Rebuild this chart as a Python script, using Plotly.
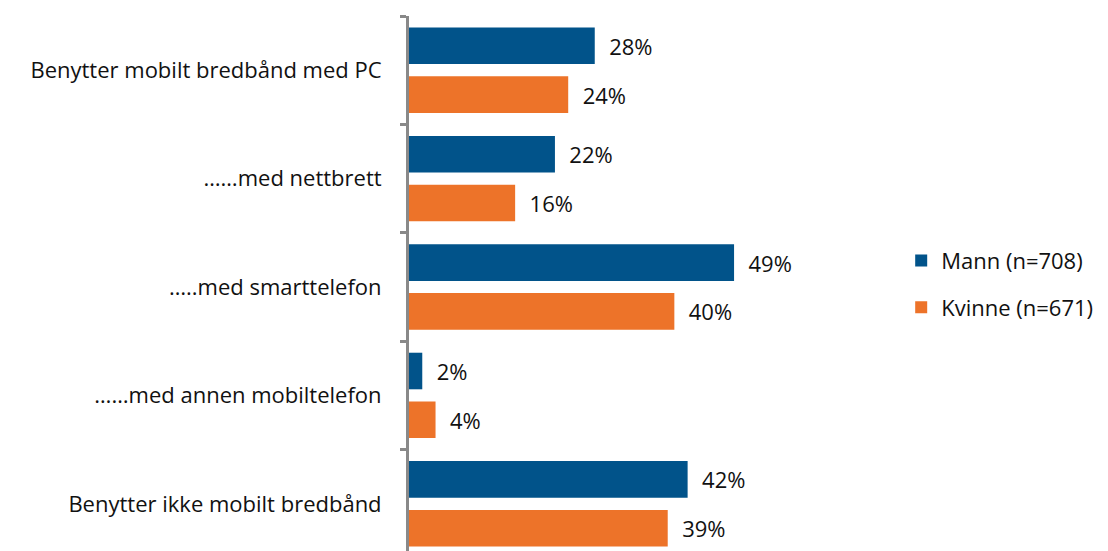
import plotly.graph_objects as go

# Data
categories = [
    "Benytter mobilt bredbånd med PC",
    "……med nettbrett",
    "…..med smarttelefon",
    "……med annen mobiltelefon",
    "Benytter ikke mobilt bredbånd",
]
mann = [28, 22, 49, 2, 42]
kvinne = [24, 16, 40, 4, 39]
series_names = ["Mann (n=708)", "Kvinne (n=671)"]

blue = "#01538A"
orange = "#ED7329"
font_family = "Open Sans"

fig = go.Figure()
for name, vals, col in [(series_names[0], mann, blue), (series_names[1], kvinne, orange)]:
    fig.add_trace(go.Bar(
        y=categories, x=vals, name=name, orientation="h",
        marker=dict(color=col, line=dict(width=0)),
        text=[f"{v}%" for v in vals],
        texttemplate="  %{text}",
        textposition="outside",
        textfont=dict(size=22, color="#111111", family=font_family),
        cliponaxis=False,
        legendgroup=name,
    ))

fig.update_layout(
    width=1108, height=551,
    margin=dict(l=401, r=236, t=8, b=1, autoexpand=False),
    plot_bgcolor="white", paper_bgcolor="white",
    barmode="group", bargap=0.10, bargroupgap=0.25,
    font=dict(family=font_family, size=22, color="#111111"),
    showlegend=True,
    legend=dict(x=1.045, y=0.505, yanchor="middle", xanchor="left",
                traceorder="grouped", tracegroupgap=15,
                font=dict(size=22, color="#111111")),
    xaxis=dict(range=[0, 71], visible=False, fixedrange=True, automargin=False),
    yaxis=dict(autorange="reversed", showline=True, linecolor="#898989", linewidth=3,
               ticks="outside", tickson="boundaries", ticklen=6, tickwidth=3,
               tickcolor="#898989", ticklabelstandoff=20, showgrid=False,
               automargin=False, tickfont=dict(size=22, color="#111111")),
)

fig.write_html("out.html")
